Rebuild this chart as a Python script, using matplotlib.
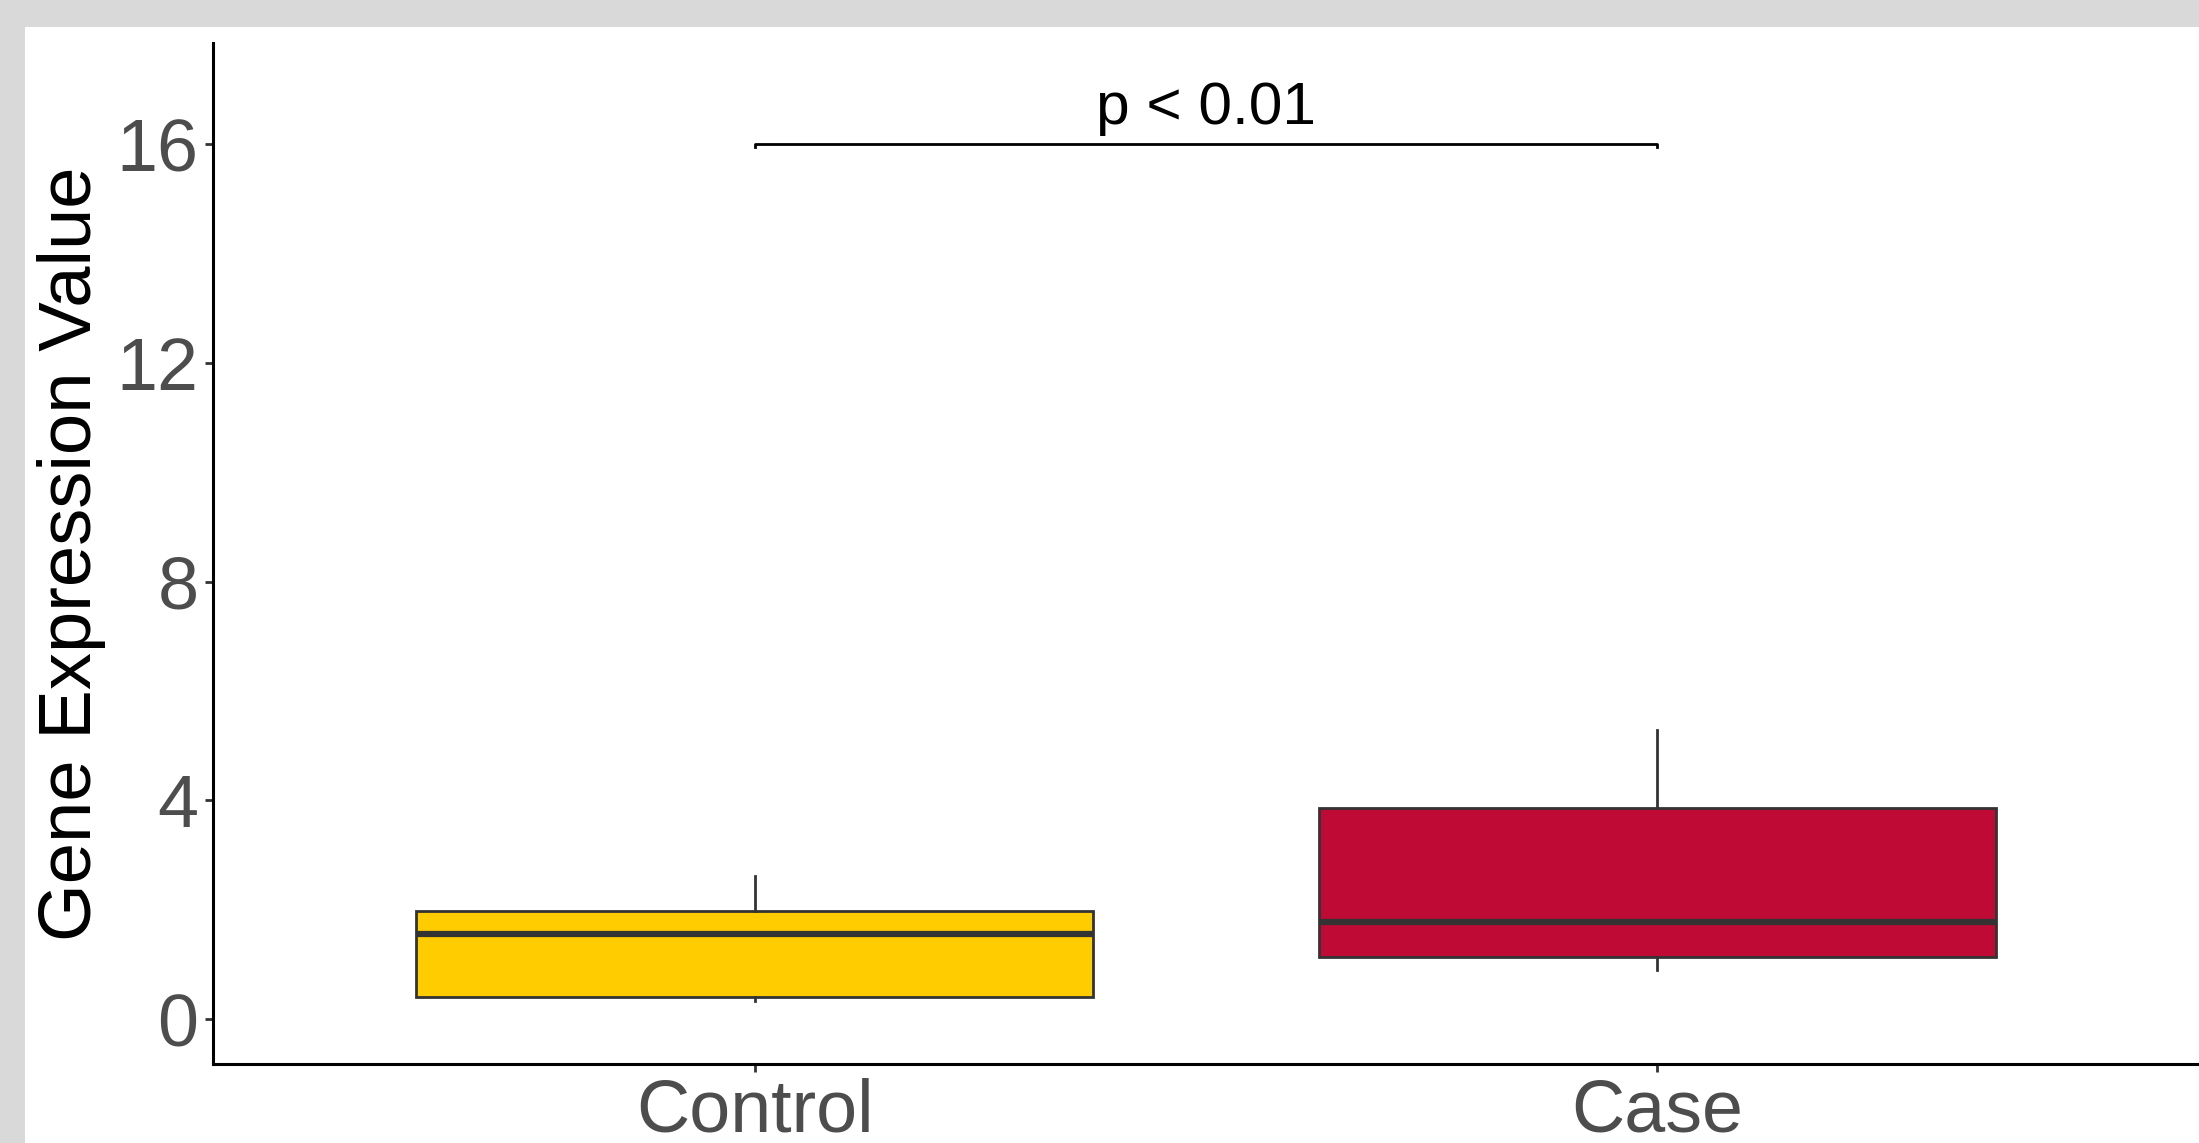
import numpy as np
import matplotlib
matplotlib.use("Agg")
from matplotlib import pyplot as plt
from matplotlib.patches import Rectangle

# box statistics
groups = ["Control", "Case"]
q1 = [0.41, 1.13]
med = [1.56, 1.77]
q3 = [1.97, 3.87]
whislo = [0.33, 0.90]
whishi = [2.62, 5.28]
fill_colors = ["#FFCC00", "#BF0A35"]

yticks = [0, 4, 8, 12, 16]
bracket_y = 16.0
p_label = "p < 0.01"

plt.rcParams['font.family'] = ['Liberation Sans', 'DejaVu Sans']

W, H, dpi = 2199, 1143, 100
fig = plt.figure(figsize=(W / dpi, H / dpi), dpi=dpi, facecolor="white")
# grey frame along the top and left edges
frame = "#D9D9D9"
fig.patches.append(Rectangle((0, 1 - 27 / H), 1, 27 / H, transform=fig.transFigure,
                             facecolor=frame, edgecolor="none", zorder=-10))
fig.patches.append(Rectangle((0, 0), 25 / W, 1, transform=fig.transFigure,
                             facecolor=frame, edgecolor="none", zorder=-10))

ax = fig.add_axes([213 / W, 1 - 1064 / H, 1 - 213 / W, (1064 - 43) / H])
ax.set_facecolor("none")

stats = []
for i, g in enumerate(groups):
    stats.append(dict(label=g, q1=q1[i], med=med[i], q3=q3[i],
                      whislo=whislo[i], whishi=whishi[i], fliers=[]))

pos = np.arange(1, len(groups) + 1)
bp = ax.bxp(stats, positions=pos, widths=0.75, patch_artist=True,
            showcaps=False, showfliers=False,
            boxprops=dict(edgecolor="#333333", linewidth=2.0),
            medianprops=dict(color="#333333", linewidth=4.5, solid_capstyle="butt"),
            whiskerprops=dict(color="#333333", linewidth=2.0))
for patch, c in zip(bp["boxes"], fill_colors):
    patch.set_facecolor(c)

# significance bracket
ax.plot([pos[0], pos[0], pos[1], pos[1]],
        [bracket_y - 0.05, bracket_y, bracket_y, bracket_y - 0.05],
        color="black", linewidth=2.0)
ax.text(pos.mean(), bracket_y + 0.37, p_label, ha="center", va="baseline",
        fontsize=43.5, color="black")

ax.set_xlim(0.4, 2.6)
ax.set_ylim(-0.82, 17.85)
ax.set_yticks(yticks)
ax.set_xticks(pos)
ax.set_xticklabels(groups)

for s in ["top", "right"]:
    ax.spines[s].set_visible(False)
for s in ["left", "bottom"]:
    ax.spines[s].set_linewidth(2.2)
    ax.spines[s].set_color("black")

ax.tick_params(axis="both", length=6, width=2, color="#333333",
               labelcolor="#4D4D4D", labelsize=53)
ax.tick_params(axis="y", pad=4.5)
ax.tick_params(axis="x", pad=4)

ax.set_ylabel("Gene Expression Value", fontsize=53.5, color="black")
ax.yaxis.set_label_coords(-0.054, 0.5)

fig.savefig("out.png", dpi=dpi, facecolor=fig.get_facecolor())
